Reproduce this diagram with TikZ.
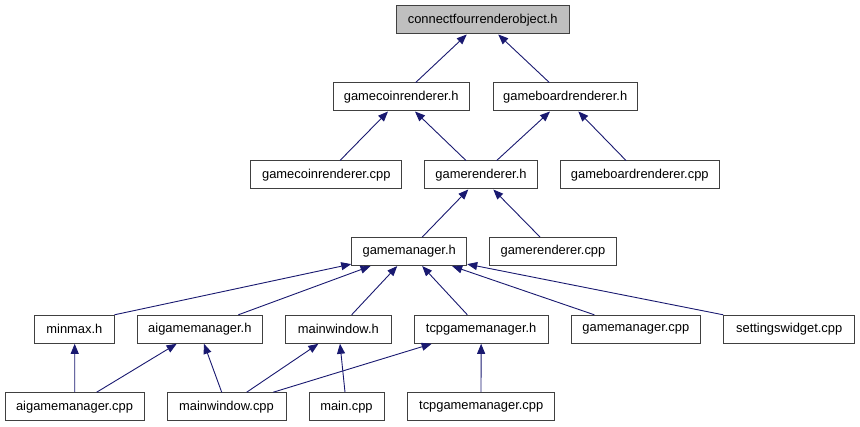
\documentclass[tikz,border=0pt]{standalone}
\usepackage{fontspec}
\setmainfont{Liberation Sans}
\usetikzlibrary{arrows.meta}
\definecolor{edgeblue}{HTML}{191970}
\definecolor{boxline}{HTML}{404040}
\definecolor{topfill}{HTML}{BFBFBF}
\tikzset{
  filebox/.style={draw=boxline, line width=1pt, fill=white, inner sep=0pt,
    minimum height=28pt, font=\fontsize{12.9}{15}\selectfont},
  topbox/.style={filebox, fill=topfill},
  inc/.style={draw=edgeblue, line width=0.9pt, -{Triangle[length=10pt,width=8pt]}}
}
\begin{document}
\begin{tikzpicture}[x=1pt,y=-1pt]
\useasboundingbox (0,0) rectangle (860,427);
% row 0
\node[topbox, minimum width=172.5pt] (cfro) at (482.75,20) {connectfourrenderobject.h};
% row 1
\node[filebox, minimum width=136.3pt] (gcrh) at (401.2,97) {gamecoinrenderer.h};
\node[filebox, minimum width=144.3pt] (gbrh) at (565.2,97) {gameboardrenderer.h};
% row 2
\node[filebox, minimum width=151.3pt] (gcrcpp) at (326.3,175) {gamecoinrenderer.cpp};
\node[filebox, minimum width=112.6pt] (grh) at (481,175) {gamerenderer.h};
\node[filebox, minimum width=159pt] (gbrcpp) at (639.8,175) {gameboardrenderer.cpp};
% row 3
\node[filebox, minimum width=115pt] (gmh) at (409.2,251.6) {gamemanager.h};
\node[filebox, minimum width=127.4pt] (grcpp) at (553,251.5) {gamerenderer.cpp};
% row 4
\node[filebox, minimum width=79.3pt] (minmax) at (74.35,329.3) {minmax.h};
\node[filebox, minimum width=125.7pt] (aigmh) at (199.85,329.3) {aigamemanager.h};
\node[filebox, minimum width=105.3pt] (mwh) at (338.35,329.3) {mainwindow.h};
\node[filebox, minimum width=133.7pt] (tcph) at (481.15,329.3) {tcpgamemanager.h};
\node[filebox, minimum width=129.7pt] (gmcpp) at (635.85,329.3) {gamemanager.cpp};
\node[filebox, minimum width=131pt] (swcpp) at (789.2,329.3) {settingswidget.cpp};
% row 5
\node[filebox, minimum width=139pt] (aigmcpp) at (74.5,406.7) {aigamemanager.cpp};
\node[filebox, minimum width=119pt] (mwcpp) at (226.5,406.7) {mainwindow.cpp};
\node[filebox, minimum width=75pt] (maincpp) at (346.5,406.7) {main.cpp};
\node[filebox, minimum width=147pt] (tcpcpp) at (481.2,406.7) {tcpgamemanager.cpp};
% edges
\draw[inc] ([xshift=14.5pt]gcrh.north) -- ([xshift=-16pt]cfro.south);
\draw[inc] ([xshift=-15.9pt]gbrh.north) -- ([xshift=15.5pt]cfro.south);
\draw[inc] ([xshift=13.7pt]gcrcpp.north) -- ([xshift=-13.2pt]gcrh.south);
\draw[inc] ([xshift=-15pt]grh.north) -- ([xshift=13.8pt]gcrh.south);
\draw[inc] ([xshift=15.7pt]grh.north) -- ([xshift=-15.2pt]gbrh.south);
\draw[inc] ([xshift=-13.8pt]gbrcpp.north) -- ([xshift=13.1pt]gbrh.south);
\draw[inc] ([xshift=13pt]gmh.north) -- ([xshift=-12.7pt]grh.south);
\draw[inc] ([xshift=-13pt]grcpp.north) -- ([xshift=12.3pt]grh.south);
\draw[inc] (minmax.north east) -- ([yshift=2pt]gmh.south west);
\draw[inc] ([xshift=38.5pt]aigmh.north) -- ([xshift=-38.7pt]gmh.south);
\draw[inc] ([xshift=13.3pt]mwh.north) -- ([xshift=-12pt]gmh.south);
\draw[inc] ([xshift=-13.8pt]tcph.north) -- ([xshift=13pt]gmh.south);
\draw[inc] ([xshift=-41.5pt]gmcpp.north) -- ([xshift=43pt]gmh.south);
\draw[inc] (swcpp.north west) -- ([yshift=2pt]gmh.south east);
\draw[inc] ([xshift=0.2pt]aigmcpp.north) -- ([xshift=0.35pt]minmax.south);
\draw[inc] ([xshift=22.2pt]aigmcpp.north) -- ([xshift=-23.2pt]aigmh.south);
\draw[inc] ([xshift=-4.8pt]mwcpp.north) -- ([xshift=4.15pt]aigmh.south);
\draw[inc] ([xshift=20.2pt]mwcpp.north) -- ([xshift=-20pt]mwh.south);
\draw[inc] ([xshift=46.8pt]mwcpp.north) -- ([xshift=-49.5pt]tcph.south);
\draw[inc] ([xshift=-1.5pt]maincpp.north) -- ([xshift=1.65pt]mwh.south);
\draw[inc] ([xshift=-0.2pt]tcpcpp.north) -- (tcph.south);
\end{tikzpicture}
\end{document}
